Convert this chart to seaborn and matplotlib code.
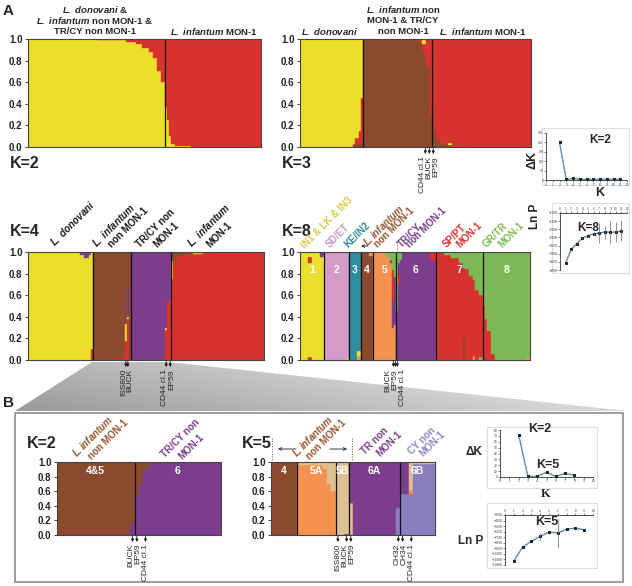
import numpy as np
import matplotlib
matplotlib.use("Agg")
import matplotlib.pyplot as plt
import seaborn as sns
from matplotlib.patches import Polygon, Rectangle
from matplotlib.transforms import offset_copy

# Estilo
sns.set_theme(style="white")
plt.rcParams['font.family'] = ['Liberation Sans', 'DejaVu Sans']
plt.rcParams['mathtext.fontset'] = 'custom'
plt.rcParams['mathtext.rm'] = 'Liberation Sans'
plt.rcParams['mathtext.it'] = 'Liberation Sans:italic'
plt.rcParams['mathtext.bf'] = 'Liberation Sans:bold'
plt.rcParams['mathtext.bfit'] = 'Liberation Sans:italic:bold'

# Cores dos clusters
cores = {'Y': '#ECDF2C', 'R': '#D8322F', 'B': '#8B4A2D', 'P': '#7C3D8F',
         'Pk': '#D49AC8', 'T': '#2C8E9F', 'O': '#F4934F', 'G': '#7DBA56',
         'Tn': '#DDC190', 'L': '#8B7EBE'}

# ---- Dados: (n. de individuos, [(cluster, fracao) de baixo para cima]) ----
k2_grupos = [69, 48]
k2_runs = [
    (35, [('Y', 1.0)]), (14, [('Y', .99), ('R', .01)]), (5, [('Y', .97), ('R', .03)]),
    (3, [('Y', .95), ('R', .05)]), (4, [('Y', .92), ('R', .08)]), (2, [('Y', .88), ('R', .12)]),
    (2, [('Y', .82), ('R', .18)]), (2, [('Y', .70), ('R', .30)]), (2, [('Y', .60), ('R', .40)]),
    (1, [('Y', .37), ('R', .63)]), (1, [('Y', .25), ('R', .75)]), (1, [('Y', .10), ('R', .90)]),
    (2, [('Y', .03), ('R', .97)]), (8, [('Y', .01), ('R', .99)]), (35, [('R', 1.0)]),
]

k3_grupos = [32, 35, 50]
k3_runs = [
    (27, [('Y', 1.0)]), (1, [('B', .03), ('Y', .97)]), (2, [('B', .02), ('R', .06), ('Y', .92)]),
    (1, [('B', .03), ('R', .12), ('Y', .85)]), (1, [('B', .05), ('R', .40), ('Y', .55)]),
    (28, [('B', 1.0)]), (2, [('B', .97), ('R', .03)]), (1, [('B', .90), ('R', .05), ('Y', .05)]),
    (1, [('B', .85), ('R', .10), ('Y', .05)]), (2, [('B', .75), ('R', .25)]), (1, [('B', .30), ('R', .70)]),
    (1, [('B', .43), ('R', .57)]), (1, [('B', .15), ('R', .85)]), (2, [('B', .07), ('R', .93)]),
    (4, [('B', .03), ('R', .97)]), (2, [('B', .02), ('Y', .02), ('R', .96)]), (40, [('R', 1.0)]),
]
k3_marcas = [[('CD44 cl.1', 63), ('BUCK', 65), ('EP59', 67)]]

k4_grupos = [32, 19, 20, 46]
k4_runs = [
    (26, [('Y', 1.0)]), (2, [('Y', .97), ('P', .03)]), (2, [('Y', .94), ('P', .06)]),
    (1, [('Y', .97), ('P', .03)]), (1, [('B', .02), ('R', .08), ('Y', .90)]),
    (9, [('B', 1.0)]), (6, [('P', .01), ('R', .01), ('B', .98)]), (1, [('R', .03), ('B', .97)]),
    (1, [('R', .18), ('Y', .15), ('B', .67)]), (1, [('R', .38), ('Y', .02), ('P', .28), ('B', .32)]),
    (1, [('R', .02), ('B', .98)]),
    (16, [('P', 1.0)]), (1, [('B', .02), ('P', .98)]), (1, [('R', .28), ('Y', .02), ('P', .70)]),
    (2, [('R', .55), ('P', .45)]),
    (1, [('R', .75), ('Y', .17), ('B', .08)]), (2, [('R', .92), ('B', .08)]), (3, [('R', .96), ('B', .04)]),
    (5, [('R', .98), ('B', .02)]), (5, [('R', .98), ('Y', .01), ('B', .01)]), (30, [('R', 1.0)]),
]
k4_marcas = [[('ISS800', 48), ('BUCK', 49)], [('CD44 cl.1', 68), ('EP59', 70)]]

k8_grupos = [12, 13, 6, 6, 12, 20, 24, 24]
k8_nomes = ['1', '2', '3', '4', '5', '6', '7', '8']
k8_runs = [
    (4, [('Y', 1.0)]), (2, [('R', .03), ('Y', .87), ('R', .05), ('Y', .05)]), (4, [('Y', 1.0)]),
    (2, [('Y', .95), ('P', .05)]),
    (12, [('Pk', 1.0)]), (1, [('Y', .03), ('Pk', .97)]),
    (4, [('T', 1.0)]), (2, [('O', .04), ('Y', .04), ('T', .92)]),
    (4, [('B', 1.0)]), (2, [('B', .96), ('O', .04)]),
    (7, [('O', 1.0)]), (2, [('O', .95), ('G', .05)]), (1, [('O', .90), ('P', .03), ('G', .07)]),
    (1, [('O', .30), ('P', .25), ('R', .28), ('G', .17)]), (1, [('O', .32), ('P', .45), ('G', .23)]),
    (1, [('P', .45), ('G', .55)]), (1, [('P', .70), ('R', .10), ('P', .10), ('G', .10)]),
    (1, [('P', .93), ('G', .07)]), (14, [('P', 1.0)]), (3, [('P', .93), ('R', .07)]),
    (4, [('R', 1.0)]), (4, [('R', .97), ('G', .03)]), (4, [('R', .94), ('G', .06)]),
    (2, [('R', .90), ('G', .10)]), (1, [('B', .20), ('R', .65), ('G', .15)]),
    (2, [('R', .84), ('G', .16)]), (2, [('R', .78), ('G', .22)]), (1, [('O', .04), ('R', .70), ('G', .26)]),
    (2, [('R', .65), ('G', .35)]), (2, [('G', .03), ('R', .57), ('G', .40)]),
    (1, [('R', .50), ('G', .50)]), (1, [('R', .38), ('G', .62)]), (2, [('R', .27), ('G', .73)]),
    (2, [('R', .06), ('G', .94)]), (16, [('G', 1.0)]), (2, [('O', .03), ('G', .97)]),
]
k8_marcas = [[('BUCK', 47), ('EP59', 48), ('CD44 cl.1', 49)]]

b2_grupos = [18, 20]
b2_nomes = ['4&5', '6']
b2_runs = [
    (17, [('B', 1.0)]), (1, [('P', .15), ('B', .85)]),
    (1, [('P', .55), ('B', .45)]), (1, [('P', .70), ('B', .30)]), (1, [('P', .88), ('B', .12)]),
    (1, [('P', .96), ('B', .04)]), (16, [('P', 1.0)]),
]
b2_marcas = [[('BUCK', 17), ('EP59', 18), ('CD44 cl.1', 20)]]

b5_grupos = [6, 9, 3, 12, 8]
b5_nomes = ['4', '5A', '5B', '6A', '6B']
b5_runs = [
    (6, [('B', 1.0)]),
    (6, [('O', .96), ('Tn', .04)]), (1, [('O', .90), ('Tn', .10)]), (1, [('O', .70), ('Tn', .30)]),
    (1, [('O', .60), ('Tn', .40)]),
    (2, [('Tn', 1.0)]), (1, [('P', .02), ('Tn', .98)]),
    (1, [('Tn', .42), ('O', .02), ('P', .56)]), (9, [('P', 1.0)]), (1, [('B', .01), ('P', .99)]),
    (1, [('L', .37), ('P', .63)]),
    (2, [('L', .56), ('P', .44)]), (1, [('L', .56), ('O', .06), ('Tn', .38)]), (5, [('L', .97), ('Tn', .03)]),
]
b5_marcas = [[('ISS800', 15), ('BUCK', 17), ('EP59', 18)], [('CH32', 29), ('CH34', 30), ('CD44 cl.1', 32)]]

# Delta K e Ln P (Evanno)
dk_a_k = [2, 3, 4, 5, 6, 7, 8, 9, 10, 11]
dk_a = [200, 3, 8, 4, 3, 3, 3, 3, 3, 3]
lnp_a_k = [1, 2, 3, 4, 5, 6, 7, 8, 9, 10, 11]
lnp_a = [-4100, -3220, -2890, -2540, -2400, -2280, -2230, -2170, -2190, -2170, -2090]
lnp_a_sd = [30, 40, 40, 60, 80, 100, 600, 400, 700, 600, 650]
dk_b_k = [2, 3, 4, 5, 6, 7, 8]
dk_b = [72, 1, 1, 8, 1, 6, 3]
lnp_b_k = [1, 2, 3, 4, 5, 6, 7, 8, 9]
lnp_b = [-11250, -8800, -7730, -6850, -6080, -6250, -5540, -5370, -5660]
lnp_b_sd = [0, 0, 0, 700, 0, 2600, 0, 0, 0]

# ---- Figura ----
W, H = 632, 586
fig = plt.figure(figsize=(W / 100, H / 100), dpi=100)


def eixo(x0, y0, x1, y1):
    return fig.add_axes([x0 / W, 1 - y1 / H, (x1 - x0) / W, (y1 - y0) / H])


fundo = eixo(0, 0, W, H)
fundo.set_xlim(0, W)
fundo.set_ylim(H, 0)
fundo.axis('off')

# sombra em degrade ligando K=4 ao painel B
trap = Polygon([(92, 362), (168, 362), (628, 411), (15, 411)], closed=True, facecolor='none', edgecolor='none')
fundo.add_patch(trap)
gx, gy = np.meshgrid(np.linspace(0, 1, 256), np.linspace(0, 1, 64))
grad = np.clip(0.6 + 0.25 * gx + 0.1 * (1 - gy), 0, 1)
img = fundo.imshow(grad, extent=(15, 628, 411, 362), cmap='gray', vmin=0, vmax=1, aspect='auto')
img.set_clip_path(trap)
fundo.add_patch(Rectangle((15, 413), 608, 169, facecolor='white', edgecolor='#8c8c8c', lw=1.2))
for (x0, y0, x1, y1) in [(542, 128, 629, 185), (552, 203, 629, 273), (487, 427, 597, 488), (487, 503, 597, 568)]:
    fundo.add_patch(Rectangle((x0, y0), x1 - x0, y1 - y0, facecolor='white', edgecolor='#dddddd', lw=0.8))


def structure(ax, runs, grupos, nomes=None, y_nome=0.85):
    xs, base, alt, cor = [], [], [], []
    i = 0
    for n, partes in runs:
        tot = sum(q for _, q in partes)
        for _ in range(n):
            b = 0.0
            for c, q in partes:
                xs.append(i); base.append(b); alt.append(q / tot); cor.append(cores[c])
                b += q / tot
            i += 1
    ax.bar(xs, alt, bottom=base, width=1.0, color=cor, edgecolor=cor, linewidth=0.3)
    ax.set_xlim(-0.5, i - 0.5)
    ax.set_ylim(0, 1)
    limites = np.cumsum(grupos)
    for b in limites[:-1]:
        ax.axvline(b - 0.5, color='#111111', lw=0.9)
    ax.set_xticks([])
    ax.set_yticks(np.linspace(0, 1, 6))
    ax.set_yticklabels([f'{v:.1f}' for v in np.linspace(0, 1, 6)], fontsize=7, fontweight='bold')
    ax.tick_params(axis='y', left=True, length=2.5, width=0.6, pad=1.5, colors='#222222')
    for s in ax.spines.values():
        s.set_color('#444444')
        s.set_linewidth(0.8)
    if nomes:
        ini = np.concatenate([[0], limites[:-1]])
        for a, b, nm in zip(ini, limites, nomes):
            ax.text((a + b - 1) / 2, y_nome, nm, ha='center', va='center', color='white',
                    fontsize=7.5, fontweight='bold')


def marcas(ax, lista):
    tr = ax.get_xaxis_transform()
    for grupo in lista:
        centro = np.mean([g[1] for g in grupo])
        for j, (nome, idx) in enumerate(grupo):
            t1 = offset_copy(tr, fig=fig, x=0, y=-1, units='dots')
            t2 = offset_copy(tr, fig=fig, x=0, y=-7, units='dots')
            ax.annotate('', xy=(idx, 0), xycoords=t2, xytext=(idx, 0), textcoords=t1,
                        arrowprops=dict(arrowstyle='-|>', color='k', lw=0.6, mutation_scale=4,
                                        shrinkA=0, shrinkB=0), annotation_clip=False)
            dx = (j - (len(grupo) - 1) / 2) * 7
            tt = offset_copy(tr, fig=fig, x=dx, y=-9, units='dots')
            ax.text(centro, 0, nome, transform=tt, rotation=90, ha='center', va='top', fontsize=6)


ax2 = eixo(28, 39, 261, 147)
structure(ax2, k2_runs, k2_grupos)
ax3 = eixo(300, 39, 531, 147)
structure(ax3, k3_runs, k3_grupos)
marcas(ax3, k3_marcas)
ax4 = eixo(28, 252, 264, 360)
structure(ax4, k4_runs, k4_grupos)
marcas(ax4, k4_marcas)
ax8 = eixo(300, 252, 530, 360)
structure(ax8, k8_runs, k8_grupos, k8_nomes, 0.83)
marcas(ax8, k8_marcas)
bx2 = eixo(57, 462, 221, 535)
structure(bx2, b2_runs, b2_grupos, b2_nomes, 0.88)
marcas(bx2, b2_marcas)
bx5 = eixo(271, 462, 435, 535)
structure(bx5, b5_runs, b5_grupos, b5_nomes, 0.88)
marcas(bx5, b5_marcas)


def inset(ax, k, v, xmax, ylim, passo, topo=False, sd=None):
    sns.lineplot(x=k, y=v, ax=ax, color='#5B8DB8', lw=1.0, marker='s', markersize=2,
                 markerfacecolor='#222222', markeredgecolor='#222222')
    if sd is not None:
        ax.errorbar(k, v, yerr=sd, fmt='none', ecolor='#666666', elinewidth=0.5, capsize=0)
    ax.set_xlim(0, xmax)
    ax.set_ylim(*ylim)
    ax.set_xticks(range(0, xmax + 1))
    ax.set_yticks(np.arange(ylim[0], ylim[1] + 1, passo))
    ax.tick_params(labelsize=2.5, length=1.2, width=0.4, pad=0.6, left=True,
                   bottom=not topo, top=topo, labelbottom=not topo, labeltop=topo)
    for t in ax.get_xticklabels() + ax.get_yticklabels():
        t.set_family('Liberation Serif')
    for nome, s in ax.spines.items():
        s.set_linewidth(0.6)
        s.set_color('#333333')
    ax.spines['right'].set_visible(False)
    ax.spines['top' if not topo else 'bottom'].set_visible(False)
    ax.set_xlabel('')
    ax.set_ylabel('')
    ax.patch.set_alpha(0)


ia1 = eixo(546, 133, 627, 180)
inset(ia1, dk_a_k, dk_a, 12, (0, 250), 50)
ia2 = eixo(560, 213, 627, 270)
inset(ia2, lnp_a_k, lnp_a, 12, (-4500, -1000), 500, topo=True, sd=lnp_a_sd)
ib1 = eixo(500, 430, 593, 477)
inset(ib1, dk_b_k, dk_b, 10, (0, 80), 10)
ib2 = eixo(505, 515, 593, 565)
inset(ib2, lnp_b_k, lnp_b, 10, (-12000, -3000), 1000, topo=True, sd=lnp_b_sd)

# ---- Textos ----
frente = eixo(0, 0, W, H)
frente.set_xlim(0, W)
frente.set_ylim(H, 0)
frente.axis('off')
frente.patch.set_alpha(0)

bold = dict(fontweight='bold')
frente.text(3, 11, 'A', fontsize=11, ha='left', va='center', **bold)
frente.text(3, 403, 'B', fontsize=11, ha='left', va='center', **bold)
for x, y, s in [(10, 163, 'K=2'), (282, 163, 'K=3'), (10, 231, 'K=4'), (282, 231, 'K=8'),
                (27, 444, 'K=2'), (242, 444, 'K=5')]:
    frente.text(x, y, s, fontsize=11.5, ha='left', va='center', **bold)

cab = [
    (95, 9.5, r'$\mathbfit{L.}$ $\mathbfit{donovani}$ &'),
    (95, 20.5, r'$\mathbfit{L.}$ $\mathbfit{infantum}$ non MON-1 &'),
    (95, 31.5, 'TR/CY non MON-1'),
    (214, 31.5, r'$\mathbfit{L.}$ $\mathbfit{infantum}$ MON-1'),
    (330, 31.5, r'$\mathbfit{L.}$ $\mathbfit{donovani}$'),
    (403, 9.5, r'$\mathbfit{L.}$ $\mathbfit{infantum}$ non'),
    (403, 20.5, 'MON-1 & TR/CY'),
    (403, 31.5, 'non MON-1'),
    (483, 31.5, r'$\mathbfit{L.}$ $\mathbfit{infantum}$ MON-1'),
]
for x, y, s in cab:
    frente.text(x, y, s, fontsize=6.8, ha='center', va='center', **bold)

rot = [
    (55, 247, r'$\mathbfit{L.}$ $\mathbfit{donovani}$', 'k'),
    (97, 248, r'$\mathbfit{L.}$ $\mathbfit{infantum}$', 'k'), (112, 248, 'non MON-1', 'k'),
    (140, 248, 'TR/CY non', 'k'), (157, 248, 'MON-1', 'k'),
    (192, 248, r'$\mathbfit{L.}$ $\mathbfit{infantum}$', 'k'), (210, 248, 'MON-1', 'k'),
    (305, 249, 'IN1 & LK & IN3', '#D6CA48'),
    (330, 248, 'SD/ET', '#CF98C4'),
    (348, 248, 'KE/IN2', '#2C8E9F'),
    (368, 247, r'$\mathbfit{L.infantum}$', '#9A5530'), (378, 248, 'non MON-1', '#9A5530'),
    (402, 248, 'TR/CY', '#7C3D8F'), (410, 248, 'non MON-1', '#7C3D8F'),
    (447, 248, 'SP/PT', '#D8322F'), (460, 248, 'MON-1', '#D8322F'),
    (487, 248, 'GR/TR', '#7DBA56'), (502, 248, 'MON-1', '#7DBA56'),
    (77, 458, r'$\mathbfit{L.infantum}$', '#9A5530'), (92, 460, 'non MON-1', '#9A5530'),
    (165, 458, 'TR/CY non', '#7C3D8F'), (182, 460, 'MON-1', '#7C3D8F'),
    (297, 458, r'$\mathbfit{L.infantum}$', '#9A5530'), (310, 460, 'non MON-1', '#9A5530'),
    (365, 455, 'TR non', '#7C3D8F'), (380, 457, 'MON-1', '#7C3D8F'),
    (412, 455, 'CY non', '#9185C4'), (423, 457, 'MON-1', '#9185C4'),
]
for x, y, s, c in rot:
    frente.text(x, y, s, fontsize=7, color=c, rotation=45, rotation_mode='anchor',
                ha='left', va='baseline', **bold)

# setas e linhas pontilhadas dos grupos L. infantum
seta = dict(arrowstyle='->', color='k', lw=0.6, mutation_scale=5, shrinkA=0, shrinkB=0)
frente.annotate('', xy=(361, 246), xytext=(368, 246), arrowprops=seta)
frente.plot([397, 397], [242, 251], ls=':', color='#555555', lw=0.7)
frente.plot([272, 272], [438, 461], ls=':', color='#555555', lw=0.7)
frente.plot([352, 352], [438, 461], ls=':', color='#555555', lw=0.7)
frente.annotate('', xy=(278, 449), xytext=(296, 449), arrowprops=seta)
frente.annotate('', xy=(347, 449), xytext=(330, 449), arrowprops=seta)

# rotulos das insercoes
frente.text(600, 140, 'K=2', fontsize=8.5, ha='center', va='center', **bold)
frente.text(533, 160, 'ΔK', fontsize=9, rotation=90, ha='center', va='center', **bold)
frente.text(600, 193, 'K', fontsize=9, ha='center', va='center', **bold)
frente.text(535, 216, 'Ln P', fontsize=8.5, rotation=90, ha='center', va='center', **bold)
frente.text(588, 228, 'K=8', fontsize=8.5, ha='center', va='center', **bold)
frente.text(474, 452, 'ΔK', fontsize=8.5, ha='center', va='center', **bold)
frente.text(540, 429, 'K=2', fontsize=9, ha='center', va='center', **bold)
frente.text(548, 465, 'K=5', fontsize=9, ha='center', va='center', **bold)
frente.text(546, 494, 'K', fontsize=9, ha='center', va='center', family='Liberation Serif', **bold)
frente.text(471, 541, 'Ln P', fontsize=8.5, ha='center', va='center', **bold)
frente.text(547, 522, 'K=5', fontsize=9, ha='center', va='center', **bold)

fig.savefig('out.png', dpi=100)
